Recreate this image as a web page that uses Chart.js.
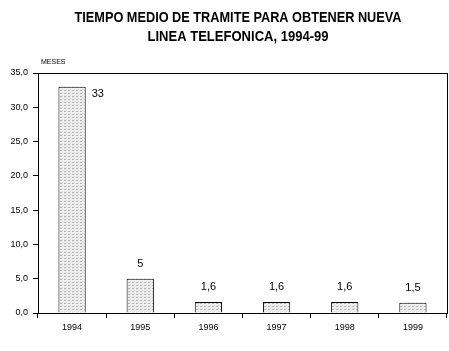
<!DOCTYPE html>
<html>
<head>
<meta charset="utf-8">
<script src="https://cdn.jsdelivr.net/npm/chart.js@4"></script>
<style>
  html, body { margin: 0; padding: 0; background: #fff; }
  #wrap { width: 449px; height: 351px; }
</style>
</head>
<body>
<div id="wrap"><canvas id="grafico" width="449" height="351"></canvas></div>
<script>
// datos
const anios = ["1994", "1995", "1996", "1997", "1998", "1999"];
const meses = [33, 5, 1.6, 1.6, 1.6, 1.5];
const etiquetas = ["33", "5", "1,6", "1,6", "1,6", "1,5"];
const tituloLineas = ["TIEMPO MEDIO DE TRAMITE PARA OBTENER NUEVA", "LINEA TELEFONICA, 1994-99"];
const unidad = "MESES";

// trama punteada de las barras
function crearTrama() {
    const c = document.createElement("canvas");
    c.width = 4; c.height = 3;
    const g = c.getContext("2d");
    g.fillStyle = "#eeeeee";
    g.fillRect(0, 0, 4, 3);
    g.fillStyle = "#b4b4b4";
    g.fillRect(0, 0, 2, 1);
    g.fillStyle = "#d8d8d8";
    g.fillRect(2, 2, 1, 1);
    return g.createPattern(c, "repeat");
}

// texto comprimido horizontalmente (la fuente original es más estrecha)
function textoAncho(ctx, txt, cx, cy, ancho) {
    const w = ctx.measureText(txt).width;
    const k = Math.min(1, ancho / w);
    ctx.save();
    ctx.translate(cx, cy);
    ctx.scale(k, 1);
    ctx.fillText(txt, 0, 0);
    ctx.restore();
}

const textosPlugin = {
    id: "textos",
    afterDraw(chart) {
        const ctx = chart.ctx;
        const area = chart.chartArea;
        ctx.save();
        // marco del área
        ctx.strokeStyle = "#000";
        ctx.lineWidth = 1;
        ctx.strokeRect(Math.round(area.left) + 0.5, Math.round(area.top) + 0.5,
            Math.round(area.right - area.left), Math.round(area.bottom - area.top));
        // título
        ctx.fillStyle = "#000";
        ctx.font = "bold 14px 'Liberation Sans', Arial, sans-serif";
        ctx.textAlign = "center";
        ctx.textBaseline = "middle";
        textoAncho(ctx, tituloLineas[0], 238, 18.5, 327);
        textoAncho(ctx, tituloLineas[1], 238, 37, 181);
        // unidad
        ctx.font = "7px 'Liberation Sans', Arial, sans-serif";
        ctx.textAlign = "left";
        ctx.fillText(unidad, 41, 62);
        // etiquetas de valores
        const meta = chart.getDatasetMeta(0);
        ctx.font = "11px 'Liberation Sans', Arial, sans-serif";
        meta.data.forEach((bar, i) => {
            if (i === 0) {
                ctx.textAlign = "left";
                ctx.fillText(etiquetas[i], bar.x + bar.width / 2 + 6, bar.y + 7);
            } else {
                ctx.textAlign = "center";
                ctx.fillText(etiquetas[i], bar.x, bar.y - 15);
            }
        });
        ctx.restore();
    }
};

new Chart(document.getElementById("grafico"), {
    type: "bar",
    data: {
        labels: anios,
        datasets: [{
            data: meses,
            backgroundColor: crearTrama(),
            borderColor: "#000",
            borderWidth: 1,
            categoryPercentage: 1,
            barPercentage: 0.4
        }]
    },
    options: {
        responsive: false,
        animation: false,
        layout: { padding: { top: 73, right: 2, left: 0, bottom: 0 } },
        plugins: { legend: { display: false }, tooltip: { enabled: false } },
        scales: {
            x: {
                offset: true,
                grid: { offset: true, drawOnChartArea: false, tickLength: 5, color: "#000" },
                border: { color: "#000" },
                ticks: { color: "#000", font: { size: 9, family: "'Liberation Sans', Arial, sans-serif" }, padding: 4 },
                afterFit: s => { s.height = 38; }
            },
            y: {
                min: 0, max: 35,
                ticks: {
                    stepSize: 5,
                    color: "#000",
                    font: { size: 9, family: "'Liberation Sans', Arial, sans-serif" },
                    padding: 5,
                    callback: v => v.toFixed(1).replace(".", ",")
                },
                grid: { drawOnChartArea: false, tickLength: 5, color: "#000" },
                border: { color: "#000" },
                afterFit: s => { s.width = 38; }
            }
        }
    },
    plugins: [textosPlugin]
});
</script>
</body>
</html>
